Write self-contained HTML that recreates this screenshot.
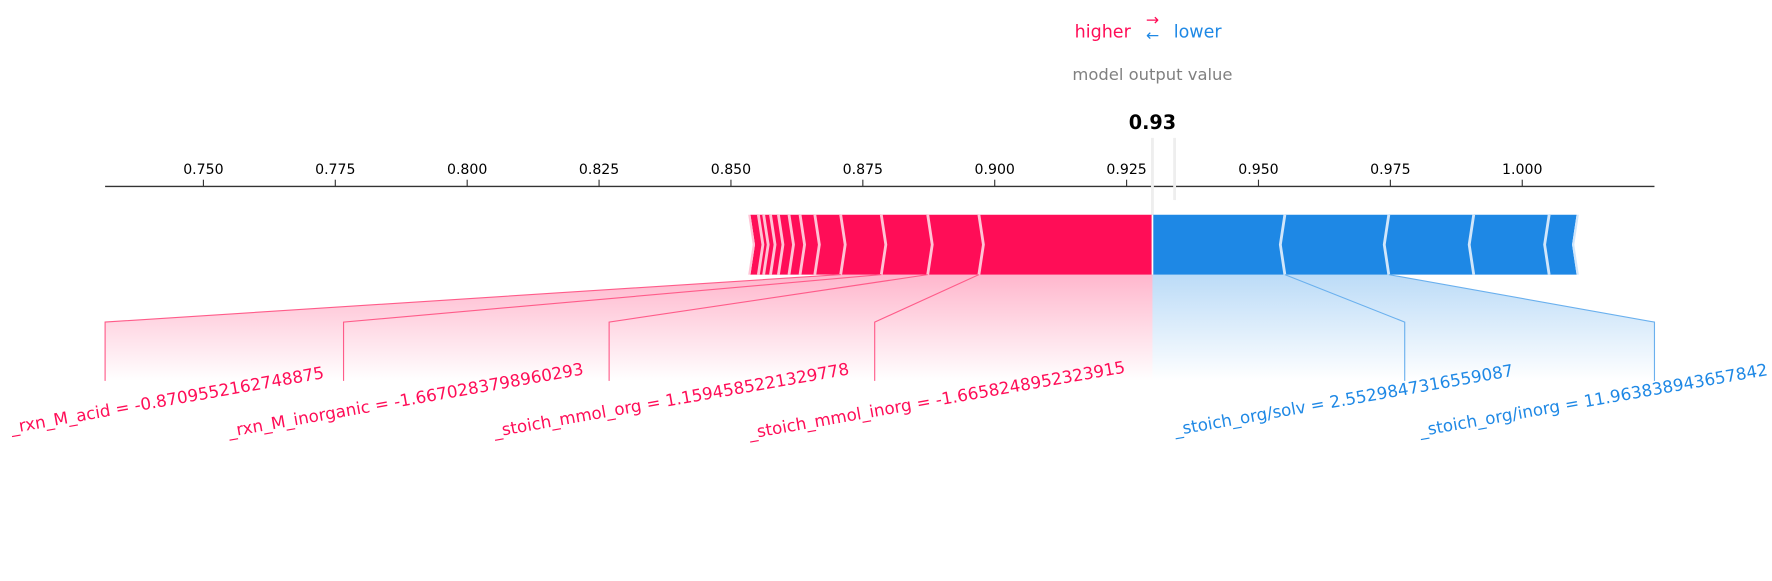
<!DOCTYPE html>
<html><head><meta charset="utf-8"><style>
html,body{margin:0;padding:0;background:#fff;}
svg{display:block;font-family:"DejaVu Sans","Liberation Sans",sans-serif;}
</style></head><body>
<svg id="chart" width="1772" height="581" viewBox="0 0 1568 514.1" xmlns="http://www.w3.org/2000/svg">
<defs>
<linearGradient id="gr" x1="0" y1="0" x2="0" y2="1"><stop offset="0" stop-color="#ff0d57" stop-opacity="0.3"/><stop offset="1" stop-color="#ff0d57" stop-opacity="0"/></linearGradient>
<linearGradient id="gb" x1="0" y1="0" x2="0" y2="1"><stop offset="0" stop-color="#1e88e5" stop-opacity="0.3"/><stop offset="1" stop-color="#1e88e5" stop-opacity="0"/></linearGradient>
</defs>
</svg>
<script>
const outputValue = 0.9299;
const redEffects = [0.0329,0.0097,0.0088,0.0077,0.0049,0.0028,0.0021,0.0020,0.0015,0.0013,0.0010,0.0015];
const blueEffects = [0.0251,0.0197,0.0161,0.0143,0.0052];
const tickValues = [0.750,0.775,0.800,0.825,0.850,0.875,0.900,0.925,0.950,0.975,1.000];
const redLabels = ["_stoich_mmol_inorg = -1.6658248952323915","_stoich_mmol_org = 1.1594585221329778","_rxn_M_inorganic = -1.6670283798960293","_rxn_M_acid = -0.8709552162748875"];
const blueLabels = ["_stoich_org/solv = 2.5529847316559087","_stoich_org/inorg = 11.963838943657842"];

const NS="http://www.w3.org/2000/svg";
const svg=document.getElementById('chart');
const x=v=>180+(v-0.75)*4668;
function mk(tag,attrs,parent){const e=document.createElementNS(NS,tag);for(const k in attrs)e.setAttribute(k,attrs[k]);(parent||svg).appendChild(e);return e;}
const T=190,B=243,M=216.5,C=4;
const sum=a=>a.reduce((s,v)=>s+v,0);
const baseValue=outputValue+sum(blueEffects)-sum(redEffects);

let ax=mk('line',{x1:93,y1:165,x2:1464,y2:165,stroke:'#333','stroke-width':1.2});


tickValues.forEach(v=>{
  let t=mk('line',{x1:x(v),y1:159,x2:x(v),y2:165,stroke:'#333','stroke-width':1});
  
  
  let l=mk('text',{x:x(v),y:154,'text-anchor':'middle','font-size':12.5,fill:'#000'});
  l.textContent=v.toFixed(3);
  
  
});

const redB=[outputValue];redEffects.forEach(e=>redB.push(redB[redB.length-1]-e));
const blueB=[outputValue];blueEffects.forEach(e=>blueB.push(blueB[blueB.length-1]+e));

let fr=mk('polygon',{points:`${x(redB[4])},${B} ${x(outputValue)},${B} ${x(outputValue)},337 93,337 93,285`,fill:'url(#gr)'});


let fb=mk('polygon',{points:`${x(outputValue)},${B} ${x(blueB[2])},${B} 1464,285 1464,337 ${x(outputValue)},337`,fill:'url(#gb)'});



let bl=mk('line',{x1:x(baseValue),y1:122,x2:x(baseValue),y2:177,stroke:'#eee','stroke-width':2.5});


let ol=mk('line',{x1:x(outputValue),y1:122,x2:x(outputValue),y2:B,stroke:'#eee','stroke-width':2.5});



for(let i=0;i<redEffects.length;i++){
  const r=x(redB[i]),l=x(redB[i+1]);
  const rc=i===0?0:C;
  let p=mk('polygon',{points:`${l},${T} ${r},${T} ${r+rc},${M} ${r},${B} ${l},${B} ${l+C},${M}`,fill:'#ff0d57'});
  
  
  if(i>0){let s=mk('polyline',{points:`${r},${T} ${r+C},${M} ${r},${B}`,fill:'none',stroke:'#ffc3d5','stroke-width':2.5});
  
  }
}
let le=x(redB[redB.length-1]);
let lt=mk('polygon',{points:`${le},${T} ${le+C},${M} ${le},${B} ${le-2},${B} ${le+C-2},${M} ${le-2},${T}`,fill:'#ffc3d5'});


for(let i=0;i<blueEffects.length;i++){
  const l=x(blueB[i]),r=x(blueB[i+1]);
  const lc=i===0?0:C;
  let p=mk('polygon',{points:`${l},${T} ${r},${T} ${r-C},${M} ${r},${B} ${l},${B} ${l-lc},${M}`,fill:'#1e88e5'});
  
  
  if(i>0){let s=mk('polyline',{points:`${l},${T} ${l-C},${M} ${l},${B}`,fill:'none',stroke:'#d1e6fa','stroke-width':2.5});
  
  }
}
let re=x(blueB[blueB.length-1]);
let rt=mk('polygon',{points:`${re},${T} ${re-C},${M} ${re},${B} ${re+2},${B} ${re-C+2},${M} ${re+2},${T}`,fill:'#d1e6fa'});


let sepMid=mk('line',{x1:x(outputValue),y1:T,x2:x(outputValue),y2:B,stroke:'#fff','stroke-width':1.5});



const redLX=[774,539,304,93];
redLabels.forEach((s,i)=>{
  const sx=x(redB[i+1]),lx=redLX[i];
  let c=mk('polyline',{points:`${sx},${B} ${lx},285 ${lx},337`,fill:'none',stroke:'#ff5c8a','stroke-width':1});
  
  
  let t=mk('text',{x:lx+55,y:359,'text-anchor':'middle','font-size':14.8,fill:'#ff0d57',transform:`rotate(-10 ${lx+55} 354)`});
  t.textContent=s;
  
  
});
const blueLX=[1243,1464];
blueLabels.forEach((s,i)=>{
  const sx=x(blueB[i+1]),lx=blueLX[i];
  let c=mk('polyline',{points:`${sx},${B} ${lx},285 ${lx},337`,fill:'none',stroke:'#6ab0ee','stroke-width':1});
  
  
  let t=mk('text',{x:lx-54,y:359,'text-anchor':'middle','font-size':14.8,fill:'#1e88e5',transform:`rotate(-10 ${lx-54} 354)`});
  t.textContent=s;
  
  
});

const ox=x(outputValue);
let h=mk('text',{x:ox-44,y:33,'text-anchor':'middle','font-size':15.5,fill:'#ff0d57'});h.textContent='higher';


let a1=mk('text',{x:ox,y:22,'text-anchor':'middle','font-size':14,fill:'#ff0d57'});a1.textContent='→';


let a2=mk('text',{x:ox,y:36,'text-anchor':'middle','font-size':14,fill:'#1e88e5'});a2.textContent='←';


let lw=mk('text',{x:ox+40,y:33,'text-anchor':'middle','font-size':15.5,fill:'#1e88e5'});lw.textContent='lower';


let mo=mk('text',{x:ox,y:71,'text-anchor':'middle','font-size':14.5,fill:'#808080'});mo.textContent='model output value';


let ov=mk('text',{x:ox,y:114,'text-anchor':'middle','font-size':17,'font-weight':'bold',fill:'#000'});ov.textContent=outputValue.toFixed(2);


</script>
</body></html>
